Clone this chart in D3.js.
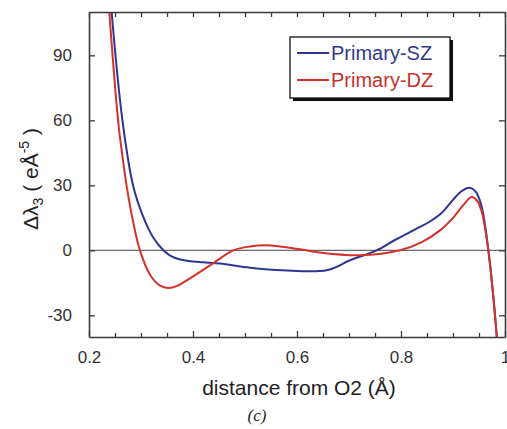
<!DOCTYPE html>
<html>
<head>
<meta charset="utf-8">
<script src="https://cdn.jsdelivr.net/npm/d3@7"></script>
<style>
  html, body { margin: 0; padding: 0; background: #fff; }
  svg { display: block; font-family: Arial, "Liberation Sans", sans-serif; }
</style>
</head>
<body>
<svg id="chart" width="507" height="429"></svg>
<script>
// Distance axis (Å) and Δλ3 values for the two models
const szX = [0.236, 0.2435, 0.2648, 0.2852, 0.3044, 0.322, 0.343, 0.356, 0.372, 0.392, 0.42, 0.452, 0.51, 0.573, 0.657, 0.702, 0.753, 0.79, 0.83, 0.855, 0.878, 0.9, 0.915, 0.928, 0.936, 0.944, 0.951, 0.958, 0.968, 0.977, 0.987];
const szY = [135, 110, 59, 29.5, 15.4, 6.5, 0, -2.4, -4.0, -4.9, -5.5, -6.1, -8.0, -9.2, -9.2, -4.6, 0, 5, 10, 13.2, 17.2, 23.3, 27, 28.8, 28.6, 27, 23.5, 17, 0, -20, -48];

const dzX = [0.232, 0.239, 0.2563, 0.2629, 0.2725, 0.285, 0.298, 0.318, 0.336, 0.3525, 0.37, 0.395, 0.4385, 0.4775, 0.51, 0.5417, 0.6058, 0.638, 0.721, 0.798, 0.84, 0.875, 0.9, 0.92, 0.936, 0.946, 0.955, 0.968, 0.977, 0.987];
const dzY = [135, 110, 59, 46, 29.5, 13, 0, -11.5, -16.2, -17.4, -16.4, -12.8, -6.0, 0, 1.8, 2.3, 0.5, -0.8, -2.3, 0, 3.8, 9.2, 15, 21, 24.6, 23, 18, 0, -20, -48];

const xTicks = [0.2, 0.4, 0.6, 0.8, 1.0];
const xTickLabels = ["0.2", "0.4", "0.6", "0.8", "1"];
const yTicks = [-30, 0, 30, 60, 90];
const yTickLabels = ["-30", "0", "30", "60", "90"];
const seriesNames = ["Primary-SZ", "Primary-DZ"];

const svg = d3.select("#chart");
const plotL = 89, plotR = 505, plotT = 12, plotB = 337;

const x = d3.scaleLinear().domain([0.2, 1.0]).range([plotL, plotR]);
const y = d3.scaleLinear().domain([-40, 110]).range([plotB, plotT]);

const axisColor = "#3a3a3a";
const blue = "#2e3592";
const red = "#d3322b";

// clip region for the curves
svg.append("defs").append("clipPath").attr("id", "plotClip")
  .append("rect").attr("x", plotL).attr("y", plotT)
  .attr("width", plotR - plotL).attr("height", plotB - plotT);

// zero reference line
svg.append("line")
  .attr("x1", plotL).attr("x2", plotR)
  .attr("y1", y(0)).attr("y2", y(0))
  .attr("stroke", "#6a6a6a").attr("stroke-width", 1.2);

// curves
const line = d3.line()
  .x(d => x(d[0])).y(d => y(d[1]))
  .curve(d3.curveCatmullRom.alpha(0.5));

const szData = szX.map((v, i) => [v, szY[i]]);
const dzData = dzX.map((v, i) => [v, dzY[i]]);

const curves = svg.append("g").attr("clip-path", "url(#plotClip)");
curves.append("path").datum(szData)
  .attr("d", line).attr("fill", "none")
  .attr("stroke", blue).attr("stroke-width", 2);
curves.append("path").datum(dzData)
  .attr("d", line).attr("fill", "none")
  .attr("stroke", red).attr("stroke-width", 2);

// axes: inward ticks on all four sides
const minorX = [0.25, 0.3, 0.35, 0.45, 0.5, 0.55, 0.65, 0.7, 0.75, 0.85, 0.9, 0.95];

const bottomAxis = d3.axisBottom(x).tickValues(xTicks)
  .tickFormat((d, i) => xTickLabels[i]).tickSizeInner(-6).tickSizeOuter(0).tickPadding(14);
svg.append("g").attr("transform", `translate(0,${plotB})`).call(bottomAxis);

const bottomMinor = d3.axisBottom(x).tickValues(minorX).tickFormat("").tickSizeInner(-4).tickSizeOuter(0);
svg.append("g").attr("transform", `translate(0,${plotB})`).call(bottomMinor)
  .call(g => g.select(".domain").remove());

const topAxis = d3.axisTop(x).tickValues(xTicks.concat(minorX)).tickFormat("").tickSizeInner(-5).tickSizeOuter(0);
svg.append("g").attr("transform", `translate(0,${plotT})`).call(topAxis);

const leftAxis = d3.axisLeft(y).tickValues(yTicks)
  .tickFormat((d, i) => yTickLabels[i]).tickSizeInner(-6).tickSizeOuter(0).tickPadding(17);
svg.append("g").attr("transform", `translate(${plotL},0)`).call(leftAxis);

const rightAxis = d3.axisRight(y).tickValues(yTicks).tickFormat("").tickSizeInner(-6).tickSizeOuter(0);
svg.append("g").attr("transform", `translate(${plotR},0)`).call(rightAxis);

svg.selectAll(".domain").attr("stroke", axisColor).attr("stroke-width", 1.6);
svg.selectAll(".tick line").attr("stroke", axisColor).attr("stroke-width", 1.3);
svg.selectAll(".tick text")
  .attr("fill", "#333").attr("font-size", 17)
  .attr("font-family", "Arial, 'Liberation Sans', sans-serif");

// axis titles
svg.append("text")
  .attr("x", 299).attr("y", 395)
  .attr("text-anchor", "middle")
  .attr("font-size", 21).attr("fill", "#222")
  .text("distance from O2 (Å)");

svg.append("text")
  .attr("x", 257).attr("y", 421)
  .attr("text-anchor", "middle")
  .attr("font-family", "'Liberation Serif', 'DejaVu Serif', serif")
  .attr("font-style", "italic")
  .attr("font-size", 17).attr("fill", "#222")
  .text("(c)");

const yTitle = svg.append("text")
  .attr("transform", "translate(38,179) rotate(-90)")
  .attr("text-anchor", "middle")
  .attr("font-size", 21).attr("fill", "#222");
yTitle.append("tspan").text("Δλ");
yTitle.append("tspan").attr("font-size", 14).attr("dy", 5).text("3");
yTitle.append("tspan").attr("dy", -5).text(" ( eÅ");
yTitle.append("tspan").attr("font-size", 14).attr("dy", -9).text("-5");
yTitle.append("tspan").attr("dy", 9).text(" )");

// legend box with drop shadow
const lg = svg.append("g");
lg.append("rect").attr("x", 293).attr("y", 40).attr("width", 160).attr("height", 61)
  .attr("fill", "#111");
lg.append("rect").attr("x", 290).attr("y", 37).attr("width", 160).attr("height", 61)
  .attr("fill", "#fff").attr("stroke", "#111").attr("stroke-width", 1.3);

const legendColors = [blue, red];
const legendText = ["#333a8c", "#c8302b"];
seriesNames.forEach((name, i) => {
  const cy = 53 + i * 27;
  lg.append("line").attr("x1", 297).attr("x2", 329)
    .attr("y1", cy).attr("y2", cy)
    .attr("stroke", legendColors[i]).attr("stroke-width", 2);
  lg.append("text").attr("x", 331).attr("y", cy + 7)
    .attr("font-size", 20).attr("fill", legendText[i])
    .text(name);
});
</script>
</body>
</html>
